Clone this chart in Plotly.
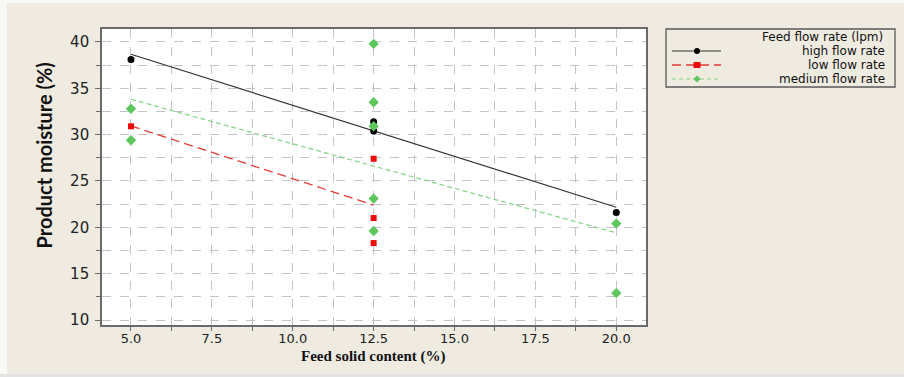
import plotly.graph_objects as go

# ---------------- data ----------------
series_names = ["high flow rate", "low flow rate", "medium flow rate"]
legend_title = "Feed flow rate (lpm)"

x_high = [5.0, 12.5, 12.5, 20.0]
y_high = [38.1, 31.4, 30.4, 21.6]

x_low = [5.0, 12.5, 12.5, 12.5]
y_low = [30.9, 27.4, 21.0, 18.3]

x_med = [5.0, 5.0, 12.5, 12.5, 12.5, 12.5, 12.5, 20.0, 20.0]
y_med = [32.8, 29.4, 39.8, 33.5, 30.9, 23.1, 19.6, 20.4, 12.9]

# fitted lines (end points)
fit_x_high = [5.0, 20.0]
fit_y_high = [38.67, 22.16]
fit_x_low = [5.0, 12.5]
fit_y_low = [30.94, 22.4]
fit_x_med = [5.0, 20.0]
fit_y_med = [33.82, 19.4]

x_ticks = [5.0, 7.5, 10.0, 12.5, 15.0, 17.5, 20.0]
x_tick_text = ["5.0", "7.5", "10.0", "12.5", "15.0", "17.5", "20.0"]
y_ticks = [10, 15, 20, 25, 30, 35, 40]

x_title = "Feed solid content (%)"
y_title = "Product moisture (%)"

# ---------------- styles ----------------
BEIGE = "#EFEBE1"
C_HIGH = "#000000"
C_HIGH_LINE = "#333333"
C_LOW = "#EE0A0A"
C_LOW_LINE = "#E23A3A"
C_MED = "#5DC65D"
C_MED_LINE = "#86D186"
GRID = "#C4C4C4"
AXIS = "#6A6A6A"

W, H = 904, 377
L, R, T, B = 102, 646, 29, 325  # plot area pixel box


def px(x):
    return (x - L) / (R - L)


def py(y):
    return (B - y) / (B - T)


fig = go.Figure()

# fitted lines
fig.add_trace(go.Scatter(x=fit_x_high, y=fit_y_high, mode="lines",
                         line=dict(color=C_HIGH_LINE, width=1.2),
                         showlegend=False, hoverinfo="skip"))
fig.add_trace(go.Scatter(x=fit_x_low, y=fit_y_low, mode="lines",
                         line=dict(color=C_LOW_LINE, width=1.3, dash="9px,5px"),
                         showlegend=False, hoverinfo="skip"))
fig.add_trace(go.Scatter(x=fit_x_med, y=fit_y_med, mode="lines",
                         line=dict(color=C_MED_LINE, width=1.2, dash="5px,3px"),
                         showlegend=False, hoverinfo="skip"))

# points
fig.add_trace(go.Scatter(x=x_high, y=y_high, mode="markers", name=series_names[0],
                         marker=dict(symbol="circle", size=7, color=C_HIGH),
                         showlegend=False))
fig.add_trace(go.Scatter(x=x_low, y=y_low, mode="markers", name=series_names[1],
                         marker=dict(symbol="square", size=6, color=C_LOW),
                         showlegend=False))
fig.add_trace(go.Scatter(x=x_med, y=y_med, mode="markers", name=series_names[2],
                         marker=dict(symbol="diamond", size=8, color=C_MED),
                         showlegend=False))

shapes = []
annotations = []

# outer frame strips
shapes.append(dict(type="rect", xref="paper", yref="paper", layer="below",
                   x0=px(0), x1=px(7), y0=py(W), y1=py(0),
                   fillcolor="#F8F8F7", line=dict(width=0)))
shapes.append(dict(type="rect", xref="paper", yref="paper", layer="below",
                   x0=px(0), x1=px(W), y0=py(3), y1=py(-5),
                   fillcolor="#F8F8F7", line=dict(width=0)))
shapes.append(dict(type="rect", xref="paper", yref="paper", layer="below",
                   x0=px(0), x1=px(W), y0=py(H + 5), y1=py(374),
                   fillcolor="#E3E3E3", line=dict(width=0)))

# custom legend box
shapes.append(dict(type="rect", xref="paper", yref="paper",
                   x0=px(666), x1=px(895), y0=py(87), y1=py(29),
                   line=dict(color="#5A5A5A", width=1.3), fillcolor=BEIGE))
LEG_FONT = dict(family="DejaVu Sans", size=12, color="#111111")
annotations.append(dict(xref="paper", yref="paper", x=px(885), y=py(37),
                        xanchor="right", yanchor="middle", showarrow=False,
                        text=legend_title, font=LEG_FONT))

leg_rows = [51.0, 65.0, 79.0]
leg_line = [(C_HIGH_LINE, 1.2, "solid"), (C_LOW_LINE, 1.3, "9px,5px"),
            (C_MED_LINE, 1.2, "4px,3px")]
for i, name in enumerate(series_names):
    yy = py(leg_rows[i])
    col, wd, dsh = leg_line[i]
    shapes.append(dict(type="line", xref="paper", yref="paper",
                       x0=px(672), x1=px(721), y0=yy, y1=yy,
                       line=dict(color=col, width=wd, dash=dsh)))
    annotations.append(dict(xref="paper", yref="paper", x=px(887), y=yy,
                            xanchor="right", yanchor="middle", showarrow=False,
                            text=name, font=LEG_FONT))

mx = px(697)
# high: circle
shapes.append(dict(type="circle", xref="paper", yref="paper",
                   xsizemode="pixel", ysizemode="pixel",
                   xanchor=mx, yanchor=py(leg_rows[0]),
                   x0=-3, x1=3, y0=-3, y1=3,
                   fillcolor=C_HIGH, line=dict(width=0)))
# low: square
shapes.append(dict(type="rect", xref="paper", yref="paper",
                   xsizemode="pixel", ysizemode="pixel",
                   xanchor=mx, yanchor=py(leg_rows[1]),
                   x0=-3.5, x1=3.5, y0=-3, y1=3,
                   fillcolor=C_LOW, line=dict(width=0)))
# medium: diamond
shapes.append(dict(type="path", xref="paper", yref="paper",
                   xsizemode="pixel", ysizemode="pixel",
                   xanchor=mx, yanchor=py(leg_rows[2]),
                   path="M -3.5 0 L 0 3.5 L 3.5 0 L 0 -3.5 Z",
                   fillcolor=C_MED, line=dict(width=0)))

# axis titles
annotations.append(dict(xref="paper", yref="paper", x=px(373), y=py(356),
                        xanchor="center", yanchor="middle", showarrow=False,
                        text="<b>" + x_title + "</b>",
                        font=dict(family="Liberation Serif", size=15, color="#111111")))
annotations.append(dict(xref="paper", yref="paper", x=px(43), y=py(155.5),
                        xanchor="center", yanchor="middle", showarrow=False,
                        textangle=-90,
                        text="<b>" + y_title + "</b>",
                        font=dict(family="Lato", size=20, color="#111111")))

fig.update_layout(
    width=W, height=H,
    margin=dict(l=L, r=W - R, t=T, b=H - B, pad=0),
    paper_bgcolor=BEIGE,
    plot_bgcolor="#FFFFFF",
    showlegend=False,
    shapes=shapes,
    annotations=annotations,
    font=dict(family="DejaVu Sans", size=13, color="#222222"),
)

fig.update_xaxes(
    range=[4.104, 20.918],
    tickmode="array", tickvals=x_ticks, ticktext=x_tick_text,
    showgrid=True, gridcolor=GRID, griddash="dash", gridwidth=1,
    minor=dict(dtick=1.25, tick0=5.0, showgrid=True, gridcolor=GRID,
               griddash="dash", gridwidth=1, ticks="outside", ticklen=4,
               tickcolor=AXIS),
    ticks="outside", ticklen=3, tickcolor=AXIS,
    showline=True, linecolor=AXIS, linewidth=1.6, mirror=True,
    zeroline=False,
    ticklabelstandoff=-2,
    tickfont=dict(family="DejaVu Sans", size=13, color="#222222"),
)
fig.update_yaxes(
    range=[9.46, 41.40],
    tickmode="array", tickvals=y_ticks,
    showgrid=True, gridcolor=GRID, griddash="dash", gridwidth=1,
    minor=dict(dtick=2.5, tick0=10, showgrid=True, gridcolor=GRID,
               griddash="dash", gridwidth=1, ticks="outside", ticklen=4,
               tickcolor=AXIS),
    ticks="outside", ticklen=5, tickcolor=AXIS,
    showline=True, linecolor=AXIS, linewidth=1.6, mirror=True,
    zeroline=False,
    ticklabelstandoff=3,
    tickfont=dict(family="DejaVu Sans", size=15, color="#222222"),
)

fig.write_html("out.html")
